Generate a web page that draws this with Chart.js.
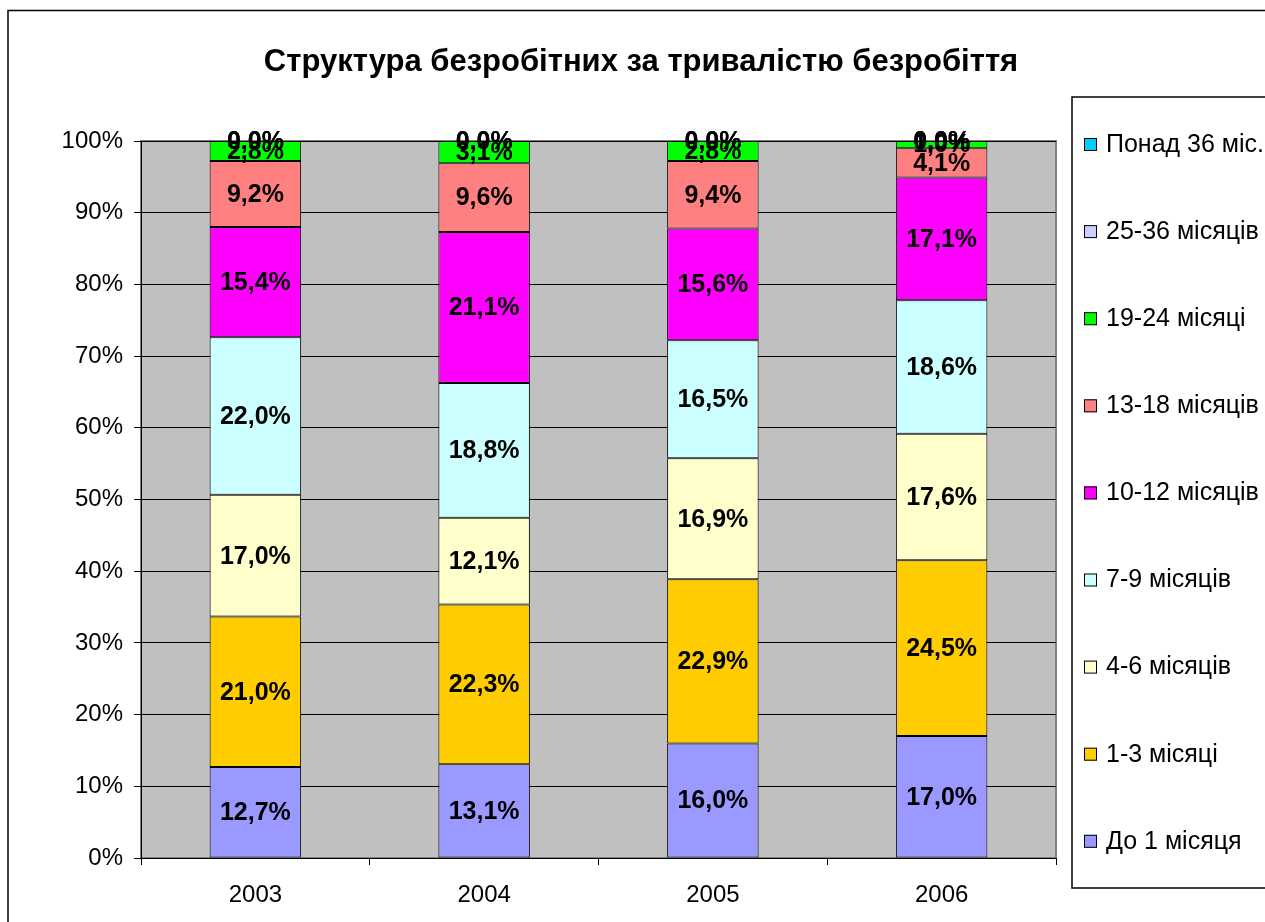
<!DOCTYPE html>
<html>
<head>
<meta charset="utf-8">
<title>Структура безробітних за тривалістю безробіття</title>
<script src="https://cdn.jsdelivr.net/npm/chart.js@4/dist/chart.umd.min.js"></script>
<style>
  html, body { margin: 0; padding: 0; background: #fff; }
  #wrap { width: 1265px; height: 922px; position: relative; }
</style>
</head>
<body>
<div id="wrap"><canvas id="unempChart"></canvas></div>
<script>
const title = 'Структура безробітних за тривалістю безробіття';
const years = ['2003', '2004', '2005', '2006'];

// share of unemployed by duration, %
const upTo1 = [12.7, 13.1, 16.0, 17.0];
const m1to3 = [21.0, 22.3, 22.9, 24.5];
const m4to6 = [17.0, 12.1, 16.9, 17.6];
const m7to9 = [22.0, 18.8, 16.5, 18.6];
const m10to12 = [15.4, 21.1, 15.6, 17.1];
const m13to18 = [9.2, 9.6, 9.4, 4.1];
const m19to24 = [2.8, 3.1, 2.8, 1.0];
const m25to36 = [0.0, 0.0, 0.0, 0.0];
const over36 = [0.0, 0.0, 0.0, 0.0];

const yTicks = [0, 10, 20, 30, 40, 50, 60, 70, 80, 90, 100];

const seriesNames = ['До 1 місяця', '1-3 місяці', '4-6 місяців', '7-9 місяців', '10-12 місяців',
  '13-18 місяців', '19-24 місяці', '25-36 місяців', 'Понад 36 міс.'];
const seriesData = [upTo1, m1to3, m4to6, m7to9, m10to12, m13to18, m19to24, m25to36, over36];
const seriesColors = ['#9999FF', '#FFCC00', '#FFFFCC', '#CCFFFF', '#FF00FF',
  '#FF8080', '#00FF00', '#CCCCFF', '#00CCFF'];

// 100% stacked: scale each year to its total, like the original
const totals = years.map((y, i) => seriesData.reduce((s, arr) => s + arr[i], 0));

const fmt = v => v.toFixed(1).replace('.', ',') + '%';
const FONT = 'Arial, "Liberation Sans", sans-serif';

const frame = {
  id: 'frame',
  beforeDraw(chart) {
    const ctx = chart.ctx, a = chart.chartArea;
    ctx.save();
    ctx.fillStyle = '#fff';
    ctx.fillRect(0, 0, chart.width, chart.height);
    ctx.strokeStyle = '#000';
    ctx.lineWidth = 1.5;
    ctx.strokeRect(8, 10.5, chart.width + 20, chart.height + 20);
    ctx.fillStyle = '#C0C0C0';
    ctx.fillRect(a.left, a.top, a.right - a.left, a.bottom - a.top);
    ctx.strokeStyle = '#808080';
    ctx.lineWidth = 2;
    ctx.strokeRect(a.left, a.top, a.right - a.left, a.bottom - a.top);
    // title
    ctx.fillStyle = '#000';
    ctx.font = 'bold 31px ' + FONT;
    ctx.textAlign = 'center';
    ctx.textBaseline = 'middle';
    ctx.fillText(title, 641, 62);
    ctx.restore();
  },
  afterDraw(chart) {
    const ctx = chart.ctx;
    ctx.save();
    // bar value labels
    ctx.fillStyle = '#000';
    ctx.font = 'bold 25px ' + FONT;
    ctx.textAlign = 'center';
    ctx.textBaseline = 'middle';
    chart.data.datasets.forEach((ds, di) => {
      chart.getDatasetMeta(di).data.forEach((bar, i) => {
        const yMid = (bar.y + bar.base) / 2;
        ctx.fillText(fmt(seriesData[di][i]), bar.x, yMid + 1);
      });
    });
    // legend box
    ctx.strokeStyle = '#000';
    ctx.lineWidth = 1.5;
    ctx.strokeRect(1072, 97, 220, 791);
    ctx.font = '25px ' + FONT;
    ctx.textAlign = 'left';
    for (let k = 0; k < seriesNames.length; k++) {
      const idx = seriesNames.length - 1 - k;
      const y = 144 + k * 87.1;
      ctx.fillStyle = seriesColors[idx];
      ctx.fillRect(1084, y - 6, 13, 13);
      ctx.strokeStyle = '#000';
      ctx.lineWidth = 1;
      ctx.strokeRect(1084.5, y - 5.5, 12, 12);
      ctx.fillStyle = '#000';
      ctx.fillText(seriesNames[idx], 1106, y + 1);
    }
    ctx.restore();
  }
};

new Chart(document.getElementById('unempChart'), {
  type: 'bar',
  data: {
    labels: years,
    datasets: seriesNames.map((name, k) => ({
      label: name,
      data: seriesData[k].map((v, i) => v / totals[i] * 100),
      backgroundColor: seriesColors[k],
      borderColor: '#000',
      borderWidth: 1,
      borderSkipped: false,
      barPercentage: 0.4,
      categoryPercentage: 1
    }))
  },
  plugins: [frame],
  options: {
    responsive: true,
    maintainAspectRatio: false,
    animation: false,
    layout: { padding: { left: 0, right: 209, top: 141, bottom: 0 } },
    plugins: {
      legend: { display: false },
      title: { display: false },
      tooltip: { enabled: false }
    },
    scales: {
      x: {
        stacked: true,
        grid: { display: true, drawOnChartArea: false, color: '#000', tickLength: 7, offset: true },
        border: { display: true, color: '#000' },
        ticks: { color: '#000', font: { family: FONT, size: 24 }, padding: 16 },
        afterFit(s) { s.height = 64; }
      },
      y: {
        stacked: true,
        min: 0,
        max: 100,
        afterBuildTicks(s) { s.ticks = yTicks.map(v => ({ value: v })); },
        grid: { color: '#000', tickLength: 7 },
        border: { display: true, color: '#000' },
        ticks: {
          color: '#000',
          font: { family: FONT, size: 24 },
          padding: 11,
          callback: v => v + '%'
        },
        afterFit(s) { s.width = 141; }
      }
    }
  }
});
</script>
</body>
</html>
